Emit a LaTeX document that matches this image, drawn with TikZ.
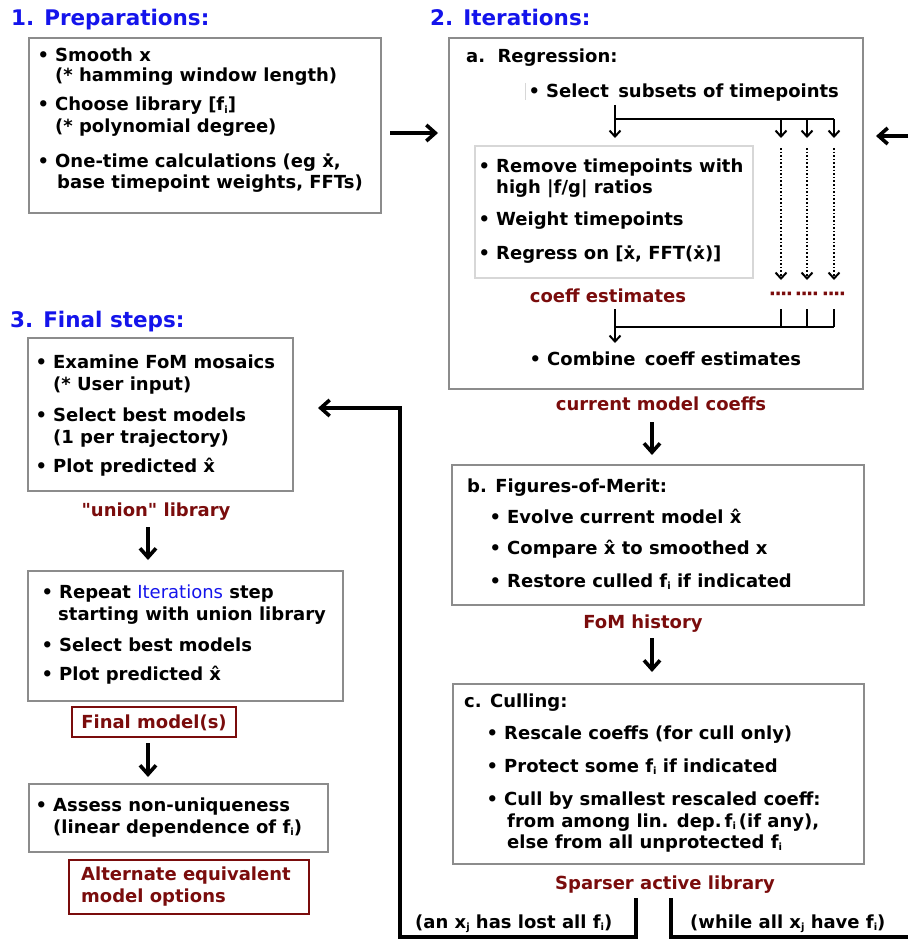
\documentclass[tikz,border=0pt]{standalone}
\usepackage{fontspec}
\setmainfont{DejaVu Sans}[Ligatures=TeXOff]
\usetikzlibrary{arrows.meta}
\definecolor{hblue}{RGB}{20,20,235}
\definecolor{dred}{RGB}{122,12,12}
\definecolor{bgray}{RGB}{140,140,140}
\definecolor{lgray}{RGB}{215,215,215}
\newcommand\sbi[1]{\raisebox{-0.3ex}{\fontsize{10}{10}\selectfont #1}}
\newcommand\bul{\makebox[0pt][r]{\textbullet\hspace{6pt}}}
\newcommand\dotgrp{·\kern-1.6pt·\kern-1.6pt·\kern-1.6pt·}
\begin{document}
\begin{tikzpicture}[x=1pt,y=-1pt,
  tx/.style={anchor=base west, inner sep=0pt, font=\fontsize{18}{21}\selectfont\bfseries},
  ctx/.style={tx, anchor=base},
  hd/.style={anchor=base west, inner sep=0pt, text=hblue, font=\fontsize{21.5}{24}\selectfont\bfseries},
  lab/.style={ctx, text=dred},
  dots/.style={lab, font=\fontsize{19}{19}\selectfont\bfseries},
  box/.style={draw=bgray, line width=1.5pt, inner sep=0pt},
  redbox/.style={draw=dred, line width=1.3pt, inner sep=0pt},
  tline/.style={line width=2pt},
  tarr/.style={tline, -{Straight Barb[length=6pt,width=11pt]}},
  dotarr/.style={tarr, dash pattern=on 1.6pt off 2pt},
  bigarrow/.style={line width=3.6pt, -{Straight Barb[length=9pt,width=16pt]}},
  fbline/.style={line width=3.6pt},
  fbarrow/.style={fbline, -{Straight Barb[length=9pt,width=16pt]}}
]
\useasboundingbox (0,0) rectangle (908,939);

% headers
\node[hd] (h1) at (11,26) {1. Preparations:};
\node[hd] (h2) at (430,26) {2. Iterations:};
\node[hd] (h3) at (10,327) {3. Final steps:};

% box 1
\node[box, minimum width=352pt, minimum height=175pt] (b1) at (205,125.5) {};
\node[tx] (t11) at (55,62) {\bul Smooth x};
\node[tx] (t12) at (55,82) {(* hamming window length)};
\node[tx] (t13) at (55,111) {\bul Choose library\ [f\sbi{i}]};
\node[tx] (t14) at (55,132) {(* polynomial degree)};
\node[tx] (t15) at (55,167) {\bul One-time calculations (eg \.{x},};
\node[tx] (t16) at (57,188) {base timepoint weights, FFTs)};

% box 2
\node[box, minimum width=414pt, minimum height=351pt] (b2) at (656,213.5) {};
\node[tx] (t21) at (466,63) {a.\hspace{4pt} Regression:};
\draw[lgray, line width=0.8pt] (525,83) -- (525,100);
\node[tx] (t22) at (546,98) {\bul Select\hspace{3pt} subsets of timepoints};
\node[draw=lgray, line width=2pt, inner sep=0pt, minimum width=278pt, minimum height=132pt] (bi) at (614,212) {};
\node[tx] (t23) at (496,172) {\bul Remove timepoints with};
\node[tx] (t24) at (496,193) {high |f/g| ratios};
\node[tx] (t25) at (496,225) {\bul Weight timepoints};
\node[tx] (t26) at (496,259) {\bul Regress on [\.{x}, FFT(\.{x})]};
\node[lab] (ce) at (608,302) {coeff estimates};
\node[dots] (d1) at (781,300.5) {\dotgrp};
\node[dots] (d2) at (807,300.5) {\dotgrp};
\node[dots] (d3) at (834,300.5) {\dotgrp};
\node[tx] (t27) at (547,365) {\bul Combine\hspace{3pt} coeff estimates};

% top tree
\coordinate (s0) at (615,105);
\coordinate (s1) at (615,119);
\coordinate (s4) at (834,119);
\coordinate (e1) at (781,138);
\coordinate (e2) at (807,138);
\coordinate (e3) at (834,138);
\draw[tarr] (s0) -- (615,138);
\draw[tline] (s1) -- (s4);
\draw[tarr] (e1 |- s1) -- (e1);
\draw[tarr] (e2 |- s1) -- (e2);
\draw[tarr] (s4) -- (e3);
\draw[dotarr] (781,148) -- (781,280);
\draw[dotarr] (807,148) -- (807,280);
\draw[dotarr] (834,148) -- (834,280);

% bottom tree
\coordinate (c1) at (615,327);
\coordinate (c4) at (834,327);
\draw[tline] (c1) -- (c4);
\draw[tline] (781,309) -- (781,327);
\draw[tline] (807,309) -- (807,327);
\draw[tline] (834,309) -- (c4);
\draw[tarr] (615,309) -- (615,343);

% current model coeffs
\node[lab] (cmc) at (661,410) {current model coeffs};
\coordinate (a2s) at (652,422);
\coordinate (a2e) at (652,455);
\draw[bigarrow] (a2s) -- (a2e);

% box b
\node[box, minimum width=412pt, minimum height=140pt] (bb) at (658,535) {};
\node[tx] (tb1) at (467,492) {b. Figures-of-Merit:};
\node[tx] (tb2) at (507,523) {\bul Evolve current model \^{x}};
\node[tx] (tb3) at (507,554) {\bul Compare \^{x} to smoothed x};
\node[tx] (tb4) at (507,587) {\bul Restore culled f\sbi{i} if indicated};
\node[lab] (fom) at (643,628) {FoM history};
\coordinate (a3s) at (652,638);
\coordinate (a3e) at (652,672);
\draw[bigarrow] (a3s) -- (a3e);

% box c
\node[box, minimum width=411pt, minimum height=180pt] (bc) at (658.5,774) {};
\node[tx] (tc1) at (464,707) {c. Culling:};
\node[tx] (tc2) at (504,739) {\bul Rescale coeffs (for cull only)};
\node[tx] (tc3) at (504,772) {\bul Protect some f\sbi{i} if indicated};
\node[tx] (tc4) at (504,805) {\bul Cull by smallest rescaled coeff:};
\node[tx] (tc5) at (507,827) {from among lin. dep.\,f\sbi{i}\,(if any),};
\node[tx] (tc6) at (507,848) {else from all unprotected f\sbi{i}};
\node[lab] (sp) at (665,889) {Sparser active library};
\node[tx] (lo1) at (415,928) {(an x\sbi{j} has lost all f\sbi{i})};
\node[tx] (lo2) at (690,928) {(while all x\sbi{j} have f\sbi{i})};

% feedback lines
\coordinate (L0) at (636,898);
\coordinate (L3) at (318,408);
\draw[fbarrow] (L0) -- (636,937) -- (400,937) -- (400,408) -- (L3);
\coordinate (R0) at (671,898);
\coordinate (R1) at (908,937);
\draw[fbline] (R0) -- (R0 |- R1) -- (R1);
\coordinate (R2) at (908,136);
\coordinate (R3) at (876,136);
\draw[fbarrow] (R2) -- (R3);

% arrow 1 -> 2
\coordinate (a1s) at (390,133);
\coordinate (a1e) at (438,133);
\draw[bigarrow] (a1s) -- (a1e);

% box 3
\node[box, minimum width=265pt, minimum height=153pt] (b3) at (160.5,414.5) {};
\node[tx] (t31) at (53,368) {\bul Examine FoM mosaics};
\node[tx] (t32) at (53,390) {(* User input)};
\node[tx] (t33) at (53,421) {\bul Select best models};
\node[tx] (t34) at (53,443) {(1 per trajectory)};
\node[tx] (t35) at (53,472) {\bul Plot predicted \^{x}};
\node[lab] (un) at (156,516) {"union" library};
\coordinate (a4s) at (148,527);
\coordinate (a4e) at (148,560);
\draw[bigarrow] (a4s) -- (a4e);

% box 4
\node[box, minimum width=315pt, minimum height=130pt] (b4) at (185.5,636) {};
\node[tx] (t41) at (59,598) {\bul Repeat {\mdseries\color{hblue}Iterations} step};
\node[tx] (t42) at (58,620) {starting with union library};
\node[tx] (t43) at (59,651) {\bul Select best models};
\node[tx] (t44) at (59,680) {\bul Plot predicted \^{x}};
\node[redbox, minimum width=164pt, minimum height=30pt] (fm) at (154,722) {};
\node[lab] (fmt) at (154,728) {Final model(s)};
\coordinate (a5s) at (148,743);
\coordinate (a5e) at (148,777);
\draw[bigarrow] (a5s) -- (a5e);

% box 5
\node[box, minimum width=299pt, minimum height=68pt] (b5) at (178.5,818) {};
\node[tx] (t51) at (53,811) {\bul Assess non-uniqueness};
\node[tx] (t52) at (53,833) {(linear dependence of f\sbi{i})};
\node[redbox, minimum width=240pt, minimum height=54pt] (alt) at (189,887) {};
\node[tx, text=dred] (al1) at (81,880) {Alternate equivalent};
\node[tx, text=dred] (al2) at (81,902) {model options};
\end{tikzpicture}
\end{document}
